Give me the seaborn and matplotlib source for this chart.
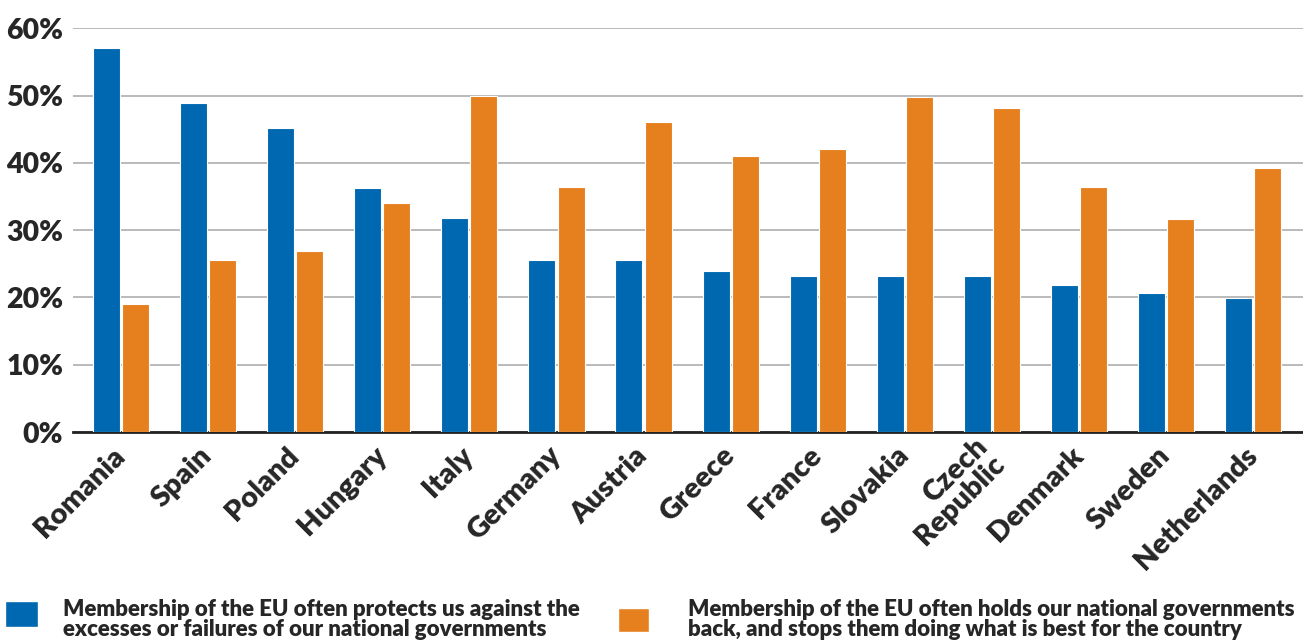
import matplotlib
matplotlib.use("Agg")
import matplotlib.pyplot as plt
import matplotlib.ticker as mticker
from matplotlib.patches import Rectangle
import pandas as pd
import seaborn as sns

countries = ["Romania", "Spain", "Poland", "Hungary", "Italy", "Germany", "Austria",
             "Greece", "France", "Slovakia", "Czech\nRepublic", "Denmark", "Sweden",
             "Netherlands"]
protects = [57.1, 48.9, 45.2, 36.3, 31.8, 25.5, 25.5, 23.9, 23.2, 23.2, 23.2, 21.9, 20.7, 19.9]
holds_back = [19.0, 25.5, 26.9, 34.1, 50.0, 36.4, 46.0, 41.0, 42.0, 49.8, 48.2, 36.4, 31.7, 39.2]
series_names = [
    "Membership of the EU often protects us against the\nexcesses or failures of our national governments",
    "Membership of the EU often holds our national governments\nback, and stops them doing what is best for the country",
]
colors = ["#0068B0", "#E6801E"]
y_ticks = [0, 10, 20, 30, 40, 50, 60]


def build_frame():
    df = pd.DataFrame({"country": countries, series_names[0]: protects, series_names[1]: holds_back})
    return df.melt(id_vars="country", var_name="series", value_name="pct")


def plot_data(df):
    sns.set_theme(style="white")
    plt.rcParams["font.family"] = ["Lato", "DejaVu Sans"]
    fig = plt.figure(figsize=(13.03, 6.41), dpi=100)
    ax = fig.add_axes([0.056, 0.326, 0.944, 0.630])

    sns.barplot(data=df, x="country", y="pct", hue="series", palette=colors,
                saturation=1, width=0.67, gap=0.075, edgecolor="white", linewidth=0.8,
                legend=False, ax=ax, zorder=3)

    ax.set_xlim(-0.55, len(countries) - 0.43)
    ax.set_ylim(0, 60)
    ax.yaxis.set_major_locator(mticker.FixedLocator(y_ticks))
    ax.set_yticklabels([f"{t}%" for t in y_ticks])
    ax.grid(axis="y", color="#b4b4b4", linewidth=1.3, zorder=0)
    ax.set_axisbelow(True)
    for side in ["left", "right", "top"]:
        ax.spines[side].set_visible(False)
    ax.spines["bottom"].set_color("#222222")
    ax.spines["bottom"].set_linewidth(2)
    ax.set_xlabel("")
    ax.set_ylabel("")
    ax.tick_params(axis="y", length=0, pad=7, labelsize=20.5)
    ax.tick_params(axis="x", length=0, pad=14)
    for label in ax.get_yticklabels():
        label.set_fontweight("heavy")
    ax.set_xticks(range(len(countries)))
    ax.set_xticklabels(countries, rotation=45, ha="right", va="center",
                       rotation_mode="anchor", fontsize=21, fontweight="heavy",
                       linespacing=0.9)

    # legend drawn at the bottom
    boxes = [(0.004, 0.022, 0.025, 0.041), (0.474, 0.014, 0.024, 0.037)]
    text_x = [0.048, 0.528]
    for (bx, by, bw, bh), tx, name, color in zip(boxes, text_x, series_names, colors):
        fig.add_artist(Rectangle((bx, by), bw, bh, transform=fig.transFigure,
                                 facecolor=color, edgecolor="white"))
        fig.text(tx, 0.002, name, ha="left", va="bottom", fontsize=16,
                 fontweight="heavy", linespacing=0.92)

    fig.savefig("out.png", dpi=100)


def main():
    plot_data(build_frame())


if __name__ == "__main__":
    main()
